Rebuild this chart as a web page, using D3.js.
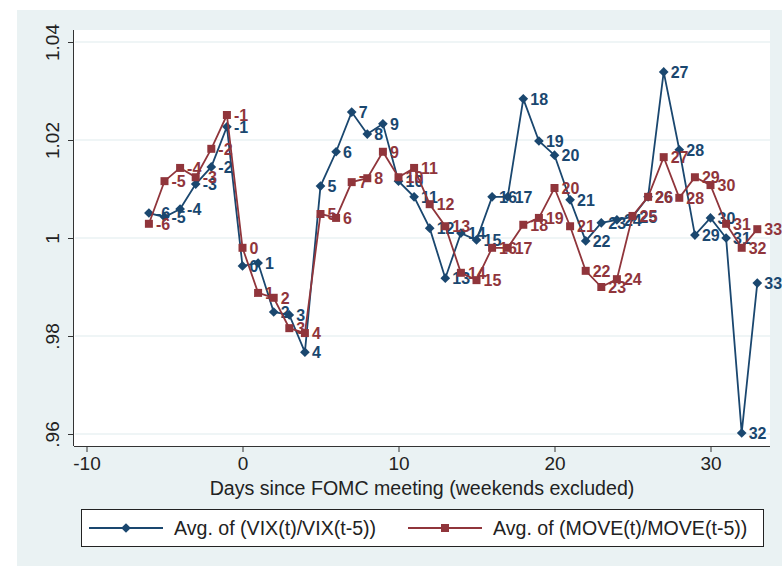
<!DOCTYPE html>
<html>
<head>
<meta charset="utf-8">
<script src="https://cdn.jsdelivr.net/npm/d3@7"></script>
<style>
body { margin: 0; background: #fff; }
text { font-family: "Liberation Sans", Arial, sans-serif; }
</style>
</head>
<body>
<div id="chart"></div>
<script>
// days relative to FOMC meeting
var days = [-6,-5,-4,-3,-2,-1,0,1,2,3,4,5,6,7,8,9,10,11,12,13,14,15,16,17,18,19,20,21,22,23,24,25,26,27,28,29,30,31,32,33];

var vix = [1.0051,1.0043,1.0059,1.0110,1.0145,1.0227,0.9943,0.9949,0.9849,0.9843,0.9767,
           1.0106,1.0176,1.0257,1.0212,1.0233,1.0116,1.0084,1.0020,0.9918,1.0010,0.9996,
           1.0084,1.0084,1.0284,1.0198,1.0169,1.0078,0.9994,1.0031,1.0037,1.0043,1.0084,
           1.0339,1.0180,1.0006,1.0041,1.0000,0.9602,0.9908];

var move = [1.0029,1.0116,1.0143,1.0124,1.0182,1.0251,0.9980,0.9888,0.9878,0.9816,0.9806,
            1.0049,1.0041,1.0114,1.0122,1.0176,1.0124,1.0143,1.0069,1.0024,0.9929,0.9914,
            0.9980,0.9980,1.0027,1.0041,1.0102,1.0024,0.9933,0.9900,0.9916,1.0045,1.0084,
            1.0165,1.0082,1.0124,1.0108,1.0029,0.9980,1.0018];

var xTicks = [-10, 0, 10, 20, 30];
var xTickLabels = ["-10", "0", "10", "20", "30"];
var yTicks = [0.96, 0.98, 1, 1.02, 1.04];
var yTickLabels = [".96", ".98", "1", "1.02", "1.04"];

var seriesNames = ["Avg. of (VIX(t)/VIX(t-5))", "Avg. of (MOVE(t)/MOVE(t-5))"];
var colors = ["#1a476f", "#90353b"];

var W = 782, H = 566;
var plot = {left: 74, top: 30, right: 770, bottom: 446};

var svg = d3.select("#chart").append("svg")
    .attr("width", W)
    .attr("height", H);

// outer panel
svg.append("rect")
    .attr("x", 17).attr("y", 10)
    .attr("width", W - 17).attr("height", H - 10)
    .attr("fill", "#eaf2f3");

svg.append("rect")
    .attr("x", plot.left).attr("y", plot.top)
    .attr("width", plot.right - plot.left).attr("height", plot.bottom - plot.top)
    .attr("fill", "#fff");

var x = d3.scaleLinear()
    .domain([-10, 30])
    .range([86.5, 710.5]);

var y = d3.scaleLinear()
    .domain([0.96, 1.04])
    .range([434, 42]);

// grid
svg.append("g").selectAll("line")
    .data(yTicks)
    .enter().append("line")
    .attr("x1", plot.left + 1).attr("x2", plot.right)
    .attr("y1", function(d) { return y(d); })
    .attr("y2", function(d) { return y(d); })
    .attr("stroke", "#eaf2f3")
    .attr("stroke-width", 1.5);

// axes
var xAxis = d3.axisBottom(x).tickValues(xTicks).tickSize(6).tickPadding(5)
    .tickFormat(function(d, i) { return xTickLabels[i]; });
var gx = svg.append("g")
    .attr("transform", "translate(0," + plot.bottom + ")")
    .call(xAxis);
gx.select(".domain").attr("d", "M" + plot.left + ",0.5H" + plot.right).attr("stroke", "#333");
gx.selectAll(".tick line").attr("stroke", "#333");
gx.selectAll(".tick text")
    .attr("font-size", 19)
    .attr("font-family", "Liberation Sans, Arial, sans-serif")
    .attr("fill", "#222");

var yAxis = d3.axisLeft(y).tickValues(yTicks).tickSize(6)
    .tickFormat(function(d, i) { return yTickLabels[i]; });
var gy = svg.append("g")
    .attr("transform", "translate(" + plot.left + ",0)")
    .call(yAxis);
gy.select(".domain").attr("d", "M-0.5," + plot.top + "V" + plot.bottom).attr("stroke", "#333");
gy.selectAll(".tick line").attr("stroke", "#333");
gy.selectAll(".tick text")
    .attr("font-size", 19)
    .attr("font-family", "Liberation Sans, Arial, sans-serif")
    .attr("fill", "#222")
    .attr("x", 0).attr("dy", 0)
    .attr("text-anchor", "middle")
    .attr("transform", "translate(-15,0) rotate(-90)");

svg.append("text")
    .attr("x", 422)
    .attr("y", 495)
    .attr("text-anchor", "middle")
    .attr("font-size", 19.6)
    .attr("fill", "#222")
    .text("Days since FOMC meeting (weekends excluded)");

// series
var series = [vix, move];
var line = d3.line()
    .x(function(d) { return x(d[0]); })
    .y(function(d) { return y(d[1]); });

var diamond = d3.symbol().type(d3.symbolDiamond2).size(60);
var square = d3.symbol().type(d3.symbolSquare).size(64);

series.forEach(function(vals, s) {
    var pts = days.map(function(d, i) { return [d, vals[i]]; });
    var g = svg.append("g");
    g.append("path")
        .datum(pts)
        .attr("d", line)
        .attr("fill", "none")
        .attr("stroke", colors[s])
        .attr("stroke-width", 1.8);
    g.selectAll("path.m")
        .data(pts)
        .enter().append("path")
        .attr("class", "m")
        .attr("d", s == 0 ? diamond : square)
        .attr("transform", function(d) { return "translate(" + x(d[0]) + "," + y(d[1]) + ")"; })
        .attr("fill", colors[s]);
    g.selectAll("text")
        .data(pts)
        .enter().append("text")
        .attr("x", function(d) { return x(d[0]) + 7; })
        .attr("y", function(d) { return y(d[1]); })
        .attr("dy", "0.36em")
        .attr("font-size", 16)
        .attr("font-weight", "bold")
        .attr("fill", colors[s])
        .text(function(d) { return String(d[0]); });
});

// legend
var leg = svg.append("g");
leg.append("rect")
    .attr("x", 81.5).attr("y", 509.5)
    .attr("width", 682).attr("height", 37)
    .attr("fill", "#fff")
    .attr("stroke", "#222");

var legX = [[89, 163, 174], [408, 482, 493]];
legX.forEach(function(p, s) {
    leg.append("line")
        .attr("x1", p[0]).attr("x2", p[1])
        .attr("y1", 528).attr("y2", 528)
        .attr("stroke", colors[s]).attr("stroke-width", 1.8);
    leg.append("path")
        .attr("d", s == 0 ? diamond : square)
        .attr("transform", "translate(" + (p[0] + p[1]) / 2 + ",528)")
        .attr("fill", colors[s]);
    leg.append("text")
        .attr("x", p[2]).attr("y", 535)
        .attr("font-size", 19.6)
        .attr("fill", "#222")
        .text(seriesNames[s]);
});
</script>
</body>
</html>
